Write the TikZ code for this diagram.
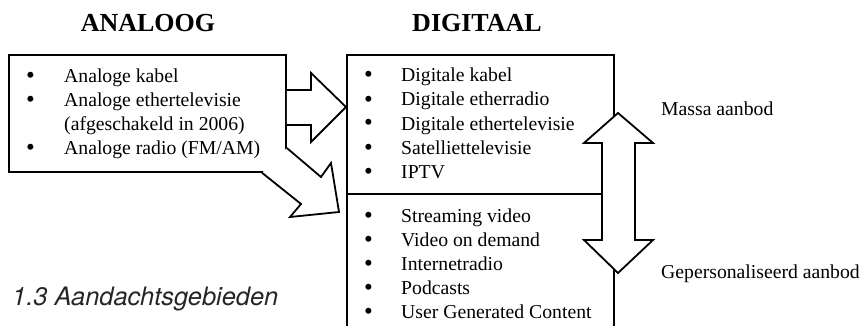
\documentclass[tikz,border=0pt]{standalone}
\usepackage{fontspec}
\setmainfont{Liberation Serif}
\newfontfamily\capfont{TeX Gyre Heros}
\usetikzlibrary{calc}

\newcommand{\itemfont}{\fontsize{19.7}{24}\selectfont}
\newcommand{\titlefont}{\fontsize{26}{30}\selectfont\bfseries}

\tikzset{
  box/.style={draw, line width=1.8pt, inner sep=0pt},
  itm/.style={anchor=base west, inner sep=0pt, font=\itemfont},
  blt/.style={anchor=base, inner sep=0pt, font=\fontsize{25}{30}\selectfont},
  ttl/.style={anchor=base, inner sep=0pt, font=\titlefont},
  blockarrow/.style={draw, fill=white, line width=1.8pt, line join=miter},
}

\begin{document}
\begin{tikzpicture}[x=1pt, y=-1pt]
\useasboundingbox (0,0) rectangle (861,326);
\clip (0,0) rectangle (861,326);

% titles
\node[ttl] (ttlana) at (148,32) {ANALOOG};
\node[ttl] (ttldig) at (477,32) {DIGITAAL};

% boxes
\node[box, anchor=north west, minimum width=277pt, minimum height=117pt] (analoog) at (8,54) {};
\node[box, anchor=north west, minimum width=267pt, minimum height=300pt] (digitaal) at (346,54) {};
\draw[line width=1.8pt] (digitaal.west |- 0,194) -- (digitaal.east |- 0,194);

% analoog list
\node[itm] (ana1) at (64,82.5) {Analoge kabel};
\node[itm] (ana2) at (64,106.5) {Analoge ethertelevisie};
\node[itm] (ana3) at (64,130.5) {(afgeschakeld in 2006)};
\node[itm] (ana4) at (64,154.5) {Analoge radio (FM/AM)};
\foreach\y in {82.5, 106.5, 154.5}
\node[blt] at (30.5,\y+1) {\textbullet};

% digitaal list, massa
\foreach\txt [count=\i] in {Digitale kabel, Digitale etherradio, Digitale ethertelevisie, Satelliettelevisie, IPTV}{
\node[itm] (dig\i) at (401,58+24*\i) {\txt};
\node[blt] at (368.5,59+24*\i) {\textbullet};
}

% digitaal list, gepersonaliseerd
\foreach\txt [count=\i] in {Streaming video, Video on demand, Internetradio, Podcasts, User Generated Content}{
\node[itm] (pers\i) at (401,198+24*\i) {\txt};
\node[blt] at (368.5,199+24*\i) {\textbullet};
}

% arrows analoog -> digitaal
\draw[blockarrow] (analoog.east |- 0,90) -- (311,90) -- (311,73) -- (digitaal.west |- 0,107)
  -- (311,142) -- (311,125) -- (analoog.east |- 0,125);
\draw[blockarrow] (analoog.east |- 0,148) -- (321,177) -- (331,163) -- (339,212)
  -- (290,217) -- (301,204) -- (analoog.south -| 262,0);

% double arrow
\draw[blockarrow] (618,113) -- (653,143) -- (635,143) -- (635,240) -- (653,240) -- (618,273)
  -- (584,240) -- (602,240) -- (602,143) -- (584,143) -- cycle;

% side labels
\node[itm] (massa) at (661,115) {Massa aanbod};
\node[itm] (gepers) at (661,278) {Gepersonaliseerd aanbod};

% caption
\node[anchor=base west, inner sep=0pt, text=black!85, font=\capfont\itshape\fontsize{25.4}{30}\selectfont] (caption) at (12,305) {1.3 Aandachtsgebieden};

\end{tikzpicture}
\end{document}
